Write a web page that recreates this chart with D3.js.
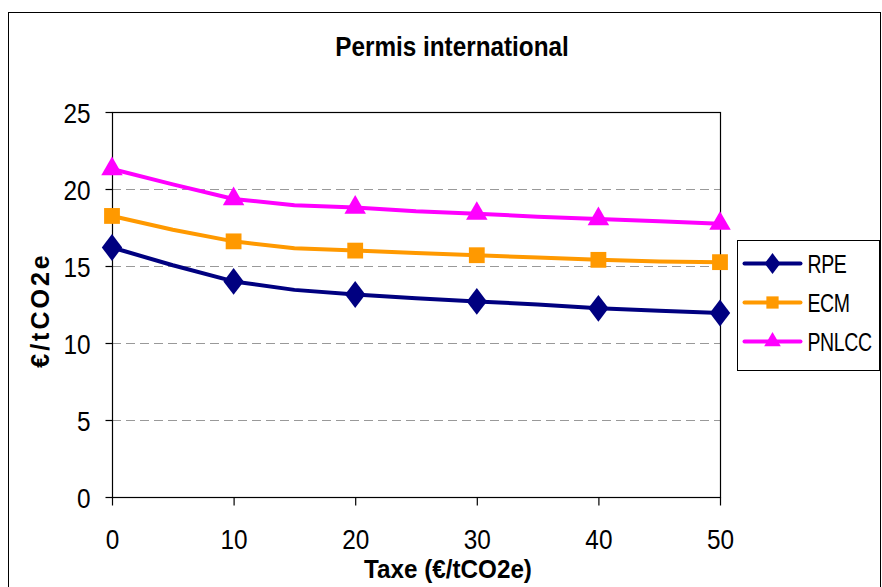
<!DOCTYPE html>
<html lang="fr">
<head>
<meta charset="UTF-8">
<title>Permis international</title>
<script src="https://d3js.org/d3.v7.min.js"></script>
<style>
  body, html { margin: 0; padding: 0; background: #fff; }
  text { font-family: "Liberation Sans", Arial, sans-serif; fill: #000; }
</style>
</head>
<body>
<div id="chart"></div>
<script>
// taxe values (every 5), markers only drawn at multiples of 10
const taxe = [0, 5, 10, 15, 20, 25, 30, 35, 40, 45, 50];
const rpe = [16.2, 15.05, 14.0, 13.45, 13.15, 12.9, 12.7, 12.5, 12.25, 12.1, 11.95];
const ecm = [18.25, 17.35, 16.6, 16.15, 16.0, 15.85, 15.7, 15.55, 15.4, 15.3, 15.25];
const pnlcc = [21.3, 20.3, 19.35, 18.95, 18.8, 18.55, 18.4, 18.2, 18.05, 17.9, 17.75];
const seriesNames = ["RPE", "ECM", "PNLCC"];
const yTicks = [0, 5, 10, 15, 20, 25];
const xTicks = [0, 10, 20, 30, 40, 50];

const width = 882, height = 587;
const plot = { left: 112, right: 720, top: 112, bottom: 497 };

const svg = d3.select("#chart").append("svg")
  .attr("width", width)
  .attr("height", height);

// squeeze text horizontally (the original uses a narrow face)
function squeeze(sel, sx) {
  sel.each(function () {
    const t = d3.select(this);
    const tx = +t.attr("x") || 0, ty = +t.attr("y") || 0;
    t.attr("x", 0).attr("y", 0)
      .attr("transform", `translate(${tx},${ty}) scale(${sx},1)`);
  });
}

// outer frame
svg.append("rect")
  .attr("x", 8.5).attr("y", 12.5)
  .attr("width", 872).attr("height", 600)
  .attr("fill", "white").attr("stroke", "#000").attr("stroke-width", 1);

const x = d3.scaleLinear().domain([0, 50]).range([plot.left, plot.right]);
const y = d3.scaleLinear().domain([0, 25]).range([plot.bottom, plot.top]);

// dashed gridlines
svg.append("g")
  .selectAll("line")
  .data(yTicks.filter(d => d > 0 && d < 25))
  .join("line")
  .attr("x1", plot.left).attr("x2", plot.right)
  .attr("y1", d => Math.round(y(d)) + 0.5).attr("y2", d => Math.round(y(d)) + 0.5)
  .attr("stroke", "#999").attr("stroke-width", 1.2)
  .attr("stroke-dasharray", "9,5");

// plot border
svg.append("rect")
  .attr("x", plot.left + 0.5).attr("y", plot.top + 0.5)
  .attr("width", plot.right - plot.left).attr("height", plot.bottom - plot.top)
  .attr("fill", "none").attr("stroke", "#000").attr("stroke-width", 1.2);

// axes
const yAxis = svg.append("g")
  .attr("transform", `translate(${plot.left + 0.5},0)`)
  .call(d3.axisLeft(y).tickValues(yTicks).tickSize(7).tickPadding(15));
const xAxis = svg.append("g")
  .attr("transform", `translate(0,${plot.bottom + 0.5})`)
  .call(d3.axisBottom(x).tickValues(xTicks).tickSize(8).tickPadding(24));

[yAxis, xAxis].forEach(a => {
  a.select(".domain").remove();
  a.selectAll(".tick line").attr("stroke", "#000").attr("stroke-width", 1.2);
  a.selectAll("text")
    .style("font-size", "28px").attr("fill", "#000");
  squeeze(a.selectAll("text"), 0.87);
});
xAxis.selectAll("text").attr("dy", "0.71em");
yAxis.selectAll("text").attr("dy", "0.36em");

// titles
svg.append("text")
  .attr("x", 452).attr("y", 56)
  .attr("text-anchor", "middle")
  .style("font-size", "27px").style("font-weight", "bold")
  .text("Permis international")
  .call(squeeze, 0.9);

svg.append("text")
  .attr("x", 448).attr("y", 578)
  .attr("text-anchor", "middle")
  .style("font-size", "25px").style("font-weight", "bold")
  .text("Taxe (€/tCO2e)")
  .call(squeeze, 0.97);

svg.append("text")
  .attr("transform", "translate(49,310) rotate(-90)")
  .attr("text-anchor", "middle")
  .style("font-size", "25px").style("font-weight", "bold")
  .style("letter-spacing", "3px")
  .text("€/tCO2e");

// series
const series = [
  { name: seriesNames[0], values: rpe, color: "#000080", shape: d3.symbolDiamond, size: 230 },
  { name: seriesNames[1], values: ecm, color: "#FF9900", shape: d3.symbolSquare, size: 250 },
  { name: seriesNames[2], values: pnlcc, color: "#FF00FF", shape: d3.symbolTriangle, size: 200 }
];

const line = d3.line()
  .x((d, i) => x(taxe[i]))
  .y(d => y(d));

series.forEach(s => {
  svg.append("path")
    .attr("d", line(s.values))
    .attr("fill", "none")
    .attr("stroke", s.color)
    .attr("stroke-width", 4)
    .attr("stroke-linejoin", "round");
  const sym = d3.symbol().type(s.shape).size(s.size);
  svg.append("g")
    .selectAll("path")
    .data(s.values.map((v, i) => ({ t: taxe[i], v })).filter(d => d.t % 10 === 0))
    .join("path")
    .attr("d", sym)
    .attr("transform", d => {
      const sx = s.shape === d3.symbolDiamond ? "scale(1.25,0.95)" : "";
      return `translate(${x(d.t)},${y(d.v)}) ${sx}`;
    })
    .attr("fill", s.color);
});

// legend
const legend = svg.append("g").attr("transform", "translate(737.5,240.5)");
legend.append("rect")
  .attr("width", 142).attr("height", 130)
  .attr("fill", "white").attr("stroke", "#000").attr("stroke-width", 1);

series.forEach((s, i) => {
  const gy = 23 + i * 39;
  const g = legend.append("g").attr("transform", `translate(0,${gy})`);
  g.append("line")
    .attr("x1", 7).attr("x2", 63)
    .attr("stroke", s.color).attr("stroke-width", 4).attr("stroke-linecap", "round");
  g.append("path")
    .attr("d", d3.symbol().type(s.shape).size(s.size * 0.6)())
    .attr("transform", `translate(35,0) ${s.shape === d3.symbolDiamond ? "scale(1.25,0.95)" : ""}`)
    .attr("fill", s.color);
  g.append("text")
    .attr("x", 70).attr("dy", "0.36em")
    .style("font-size", "25px")
    .style("letter-spacing", "-0.5px")
    .text(s.name)
    .call(squeeze, 0.78);
});
</script>
</body>
</html>
